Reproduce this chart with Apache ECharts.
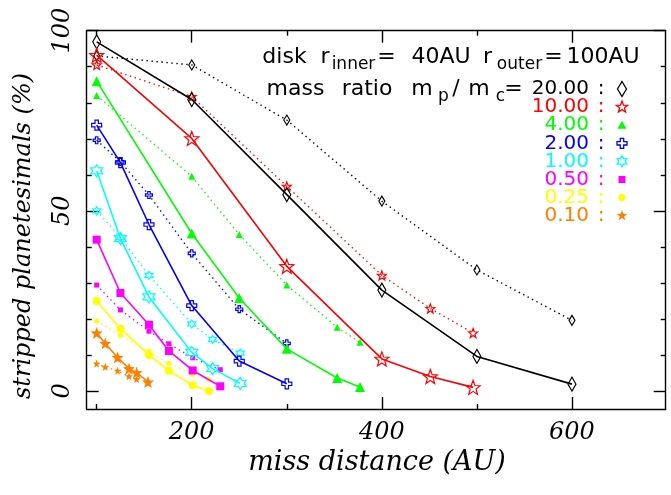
<!DOCTYPE html>
<html><head><meta charset="utf-8">
<script src="https://cdn.jsdelivr.net/npm/echarts@6/dist/echarts.min.js"></script>
<style>html,body{margin:0;padding:0;background:#fff}#c{width:671px;height:495px}</style>
</head><body><div id="c"></div>
<script>
// ---------------- data ----------------
const xTickMajor = [200, 400, 600];
const xTickMinor = [100, 300, 500];
const yTickMajor = [0, 50, 100];
const yTickMinor = [10, 20, 30, 40, 60, 70, 80, 90];
const ratioLabels = ['20.00', '10.00', '4.00', '2.00', '1.00', '0.50', '0.25', '0.10'];

const x20 = [100, 200, 300, 400, 500, 600];
const y20solid = [96.9, 80.9, 54.5, 28.0, 9.6, 1.9];
const y20dot = [93.0, 90.5, 75.2, 52.7, 33.6, 19.6];
const x10 = [100, 200, 300, 400, 451, 496];
const y10solid = [93.2, 70.1, 34.6, 8.9, 4.0, 1.0];
const y10dot = [90.5, 81.7, 56.8, 32.1, 22.9, 16.1];
const x4 = [100, 200, 250, 300, 353, 377];
const y4solid = [86.0, 43.7, 25.8, 11.7, 3.6, 1.1];
const y4dot = [82.0, 59.6, 43.4, 29.4, 17.7, 13.5];
const x2 = [100, 125, 155, 200, 250, 300];
const y2solid = [73.8, 63.4, 46.2, 23.7, 8.3, 2.0];
const y2dot = [69.6, 63.6, 54.4, 38.2, 22.7, 13.2];
const x1 = [100, 125, 155, 200, 222, 251];
const y1solid = [61.1, 42.3, 26.1, 10.7, 6.2, 2.1];
const y1dot = [50.0, 42.6, 32.1, 18.6, 14.3, 10.5];
const x05 = [100, 125, 155, 176, 201, 230];
const y05solid = [42.0, 27.2, 18.4, 11.1, 5.7, 1.3];
const y05dot = [29.4, 22.5, 16.6, 13.1, 9.2, 5.9];
const x025 = [100, 125, 155, 176, 201, 218];
const y025solid = [25.0, 17.3, 10.0, 5.6, 1.6, 0.0];
const y025dot = [19.4, 15.5, 11.0, 7.6, 4.6, 3.2];
const x01solid = [100, 109, 122, 134, 142, 154];
const y01solid = [16.1, 13.2, 9.3, 6.2, 5.1, 2.5];
const x01dot = [100, 109, 122, 134, 142];
const y01dot = [7.6, 6.7, 5.6, 4.1, 3.3];

// ---------------- styling ----------------
const XMIN = 89.5, XMAX = 698.6, YMIN = -5, YMAX = 100;
const colors = ['#000000', '#ff0000', '#00ff00', '#0000ff', '#00ffff', '#ff00ff', '#ffff00', '#ff8000'];
const SERIF = '"DejaVu Serif", "Liberation Serif", serif';
const SANS = '"DejaVu Sans", "Liberation Sans", sans-serif';

function starPts(n, R, r) {
  const pts = [];
  for (let i = 0; i < 2 * n; i++) {
    const a = -Math.PI / 2 + i * Math.PI / n;
    const rad = i % 2 ? r : R;
    pts.push([rad * Math.cos(a), rad * Math.sin(a)]);
  }
  return pts;
}
const a = 0.34;
const shapes = {
  diamond: [[0, -1], [0.6, 0], [0, 1], [-0.6, 0]],
  star5: starPts(5, 1, 0.42),
  hexa: starPts(6, 1, 0.577),
  plus: [[-a, -1], [a, -1], [a, -a], [1, -a], [1, a], [a, a], [a, 1], [-a, 1], [-a, a], [-1, a], [-1, -a], [-a, -a]],
  tri: [[0, -1], [1, 0.8], [-1, 0.8]],
  square: [[-1, -1], [1, -1], [1, 1], [-1, 1]]
};
function toPath(pts) {
  return 'path://M' + pts.map(p => (p[0] * 10).toFixed(2) + ' ' + (p[1] * 10).toFixed(2)).join(' L') + ' Z';
}

const markers = [
  { sym: 'diamond', filled: false, s: [8, 14], d: [6, 10], L: [9, 15] },
  { sym: toPath(shapes.star5), filled: false, s: 14, d: 9, L: 12, shape: 'star5' },
  { sym: 'triangle', filled: true, s: 10, d: 7, L: 9, shape: 'tri' },
  { sym: toPath(shapes.plus), filled: false, s: 10, d: 7, L: 10, shape: 'plus' },
  { sym: toPath(shapes.hexa), filled: false, s: 12, d: 8, L: 11, shape: 'hexa' },
  { sym: 'rect', filled: true, s: 8, d: 5, L: 7, shape: 'square' },
  { sym: 'circle', filled: true, s: 8, d: 5, L: 7, shape: 'circle' },
  { sym: toPath(shapes.star5), filled: true, s: 12, d: 8, L: 11, shape: 'star5' }
];

const groups = [
  [x20, y20solid, x20, y20dot],
  [x10, y10solid, x10, y10dot],
  [x4, y4solid, x4, y4dot],
  [x2, y2solid, x2, y2dot],
  [x1, y1solid, x1, y1dot],
  [x05, y05solid, x05, y05dot],
  [x025, y025solid, x025, y025dot],
  [x01solid, y01solid, x01dot, y01dot]
];

function mk(xs, ys, ci, dotted) {
  const c = colors[ci], m = markers[ci];
  return {
    type: 'line', xAxisIndex: 0, yAxisIndex: 0,
    data: xs.map((x, i) => [x, ys[i]]),
    symbol: m.sym, symbolSize: dotted ? m.d : m.s, showAllSymbol: true,
    lineStyle: { color: c, width: dotted ? 1.4 : 1.6, type: dotted ? [1.4, 3.6] : 'solid' },
    itemStyle: { color: m.filled ? c : 'rgba(0,0,0,0)', borderColor: c, borderWidth: m.filled ? 0 : 1.2 },
    z: dotted ? 2 : 3, animation: false, silent: true
  };
}
const series = [];
groups.forEach((g, i) => { series.push(mk(g[2], g[3], i, true)); series.push(mk(g[0], g[1], i, false)); });

function xa(pos, vals, len, line, labels) {
  return {
    type: 'value', min: XMIN, max: XMAX, position: pos, gridIndex: 0,
    axisLine: { show: line, onZero: false, lineStyle: { color: '#000', width: 1.4 } },
    axisTick: { show: true, inside: true, length: len, customValues: vals, lineStyle: { color: '#000', width: 1.4 } },
    axisLabel: labels ? { show: true, customValues: vals, margin: 12, fontFamily: SERIF, fontStyle: 'italic', fontSize: 24, color: '#000' } : { show: false },
    splitLine: { show: false }
  };
}
function ya(pos, vals, len, line, labels) {
  return {
    type: 'value', min: YMIN, max: YMAX, position: pos, gridIndex: 0,
    axisLine: { show: line, onZero: false, lineStyle: { color: '#000', width: 1.4 } },
    axisTick: { show: true, inside: true, length: len, customValues: vals, lineStyle: { color: '#000', width: 1.4 } },
    axisLabel: labels ? { show: true, customValues: vals, rotate: 90, margin: 12, fontFamily: SERIF, fontStyle: 'italic', fontSize: 24, color: '#000' } : { show: false },
    splitLine: { show: false }
  };
}

// ---------------- annotation text ----------------
const graphics = [];
function txt(t, x, y, size, color, align, extra) {
  graphics.push(Object.assign({
    type: 'text', x: x, y: y, silent: true, z: 10,
    style: { text: t, fontSize: size, fontFamily: SANS, fill: color, align: align || 'left', verticalAlign: 'middle' }
  }, extra || {}));
}
const B1 = 57, B2 = 89, SUB = 7.5, FS = 22, FSS = 17;
// line 1 pieces: [text, centerX, isSub]
const line1 = [['disk', 284.5, 0], ['r', 325, 0], ['inner', 353.5, 1], ['=', 386.5, 0], ['40AU', 441, 0],
  ['r', 487.5, 0], ['outer', 519.5, 1], ['=', 553.5, 0], ['100AU', 603, 0]];
const line2 = [['mass', 295.5, 0], ['ratio', 367, 0], ['m', 422, 0], ['p', 443.5, 1], ['/', 456, 0],
  ['m', 479, 0], ['c', 500.5, 1], ['=', 513.5, 0]];
line1.forEach(p => txt(p[0], p[1], B1 + (p[2] ? SUB : 0), p[2] ? FSS : FS, '#000', 'center'));
line2.forEach(p => txt(p[0], p[1], B2 + (p[2] ? SUB : 0), p[2] ? FSS : FS, '#000', 'center'));

ratioLabels.forEach((lab, i) => {
  const cy = 89 + 18.1 * i, c = colors[i], m = markers[i];
  txt(lab, 589, cy, 20, c, 'right');
  txt(':', 601, cy, 20, c, 'center');
  const cx = 622;
  if (i === 0) {
    graphics.push({ type: 'polygon', silent: true, z: 10, shape: { points: shapes.diamond.map(p => [cx + p[0] * 4.5 / 0.6, cy + p[1] * 7.5]) }, style: { fill: 'none', stroke: c, lineWidth: 1.3 } });
  } else if (m.shape === 'circle') {
    graphics.push({ type: 'circle', silent: true, z: 10, shape: { cx: cx, cy: cy, r: m.L / 2 }, style: { fill: c } });
  } else {
    const h = m.L / 2;
    graphics.push({ type: 'polygon', silent: true, z: 10, shape: { points: shapes[m.shape].map(p => [cx + p[0] * h, cy + p[1] * h]) },
      style: m.filled ? { fill: c } : { fill: 'none', stroke: c, lineWidth: 1.3 } });
  }
});

// axis titles
graphics.push({ type: 'text', x: 377, y: 463, silent: true, style: { text: 'miss distance (AU)', fontSize: 27, fontFamily: SERIF, fontStyle: 'italic', fill: '#000', align: 'center', verticalAlign: 'middle' } });
graphics.push({ type: 'text', x: 24, y: 236, rotation: Math.PI / 2, silent: true, style: { text: 'stripped planetesimals (%)', fontSize: 24, fontFamily: SERIF, fontStyle: 'italic', fill: '#000', align: 'center', verticalAlign: 'middle' } });

const chart = echarts.init(document.getElementById('c'), null, { renderer: 'canvas' });
chart.setOption({
  animation: false,
  backgroundColor: '#fff',
  grid: { left: 86.7, right: 5.3, top: 30.7, bottom: 86, containLabel: false, outerBoundsMode: 'none' },
  xAxis: [
    xa('bottom', xTickMajor, 12, true, true),
    xa('bottom', xTickMinor, 5, false, false),
    xa('top', xTickMajor, 12, true, false),
    xa('top', xTickMinor, 5, false, false)
  ],
  yAxis: [
    ya('left', yTickMajor, 12, true, true),
    ya('left', yTickMinor, 5, false, false),
    ya('right', yTickMajor, 12, true, false),
    ya('right', yTickMinor, 5, false, false)
  ],
  series: series,
  graphic: { elements: graphics }
});
</script></body></html>
